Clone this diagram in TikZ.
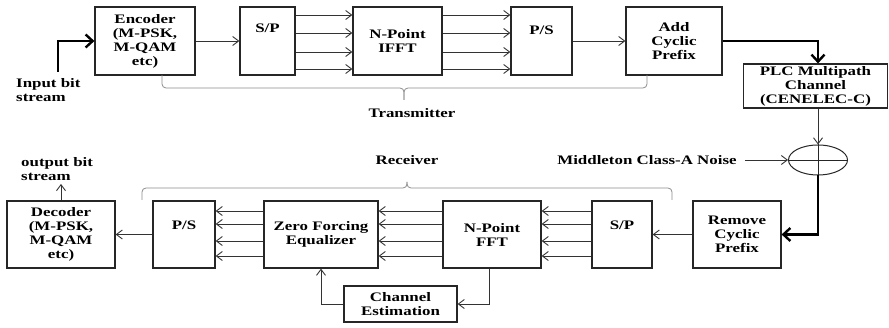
\documentclass[tikz,border=0pt]{standalone}
\usepackage{fontspec}
\setmainfont{Liberation Serif}[FakeStretch=1.3]
\usetikzlibrary{arrows.meta,shapes.geometric}
\begin{document}
\begin{tikzpicture}[x=1pt,y=-1pt,
  box/.style={draw=black!85, line width=1.2pt, inner sep=0pt, align=center, font=\bfseries\fontsize{13}{14}\selectfont},
  txt/.style={inner sep=0pt, align=center, font=\bfseries\fontsize{13}{14}\selectfont},
  ln/.style={draw=black!80, line width=0.9pt, -{Straight Barb[length=6pt,width=9pt,line width=0.9pt]}},
  thk/.style={draw=black, line width=2.4pt, -{Straight Barb[length=7pt,width=13pt]}},
  brc/.style={draw=black!45, line width=0.8pt, rounded corners=4pt}]
\useasboundingbox (0,0) rectangle (889,328);
% transmitter boxes
\node[box,minimum width=100pt,minimum height=68pt] (enc) at (145,41) {Encoder\\(M-PSK,\\M-QAM\\etc)};
\node[box,minimum width=55pt,minimum height=68pt] (sp1) at (267.5,41) {};
\node[txt] (sp1t) at (267.5,28) {S/P};
\node[box,minimum width=89pt,minimum height=68pt] (ifft) at (397.5,41) {N-Point\\IFFT};
\node[box,minimum width=61pt,minimum height=68pt] (ps1) at (541.5,41) {};
\node[txt] (ps1t) at (541.5,30) {P/S};
\node[box,minimum width=96pt,minimum height=68pt] (acp) at (674,41) {Add\\Cyclic\\Prefix};
\node[box,minimum width=144pt,minimum height=44pt] (plc) at (815.5,86) {PLC Multipath\\Channel\\(CENELEC-C)};
\node[draw=black!85, line width=1pt, ellipse, minimum width=59pt, minimum height=30pt, inner sep=0pt] (sum) at (818,160) {};
\draw[line width=0.9pt, draw=black!85] (sum.north) -- (sum.south) (sum.west) -- (sum.east);
% receiver boxes
\node[box,minimum width=88pt,minimum height=67pt] (rcp) at (737,234.5) {Remove\\Cyclic\\Prefix};
\node[box,minimum width=60pt,minimum height=67pt] (sp2) at (622,234.5) {};
\node[txt] (sp2t) at (622,225) {S/P};
\node[box,minimum width=98pt,minimum height=67pt] (fft) at (492,234.5) {N-Point\\FFT};
\node[box,minimum width=114pt,minimum height=67pt] (zfe) at (321,234.5) {Zero Forcing\\Equalizer};
\node[box,minimum width=62pt,minimum height=67pt] (ps2) at (184,234.5) {};
\node[txt] (ps2t) at (184,225) {P/S};
\node[box,minimum width=108pt,minimum height=67pt] (dec) at (61,234.5) {Decoder\\(M-PSK,\\M-QAM\\etc)};
\node[box,minimum width=113pt,minimum height=36pt] (che) at (400.5,304) {Channel\\Estimation};
% texts
\node[txt, align=left, anchor=west] (inp) at (16,90) {Input bit\\stream};
\node[txt, align=left, anchor=west] (outp) at (21,169) {output bit\\stream};
\node[txt] (tx) at (412,113) {Transmitter};
\node[txt] (rx) at (407,160) {Receiver};
\node[txt] (noise) at (647,160) {Middleton Class-A Noise};
\coordinate (inpt) at (58,72);
\coordinate (outpt) at (61,184);
% transmitter connectors
\draw[thk] (inpt) |- (enc.west);
\draw[ln] (enc.east) -- (sp1.west);
\foreach \yy in {15,33,52,69} {
  \draw[ln] (sp1.east |- 0,\yy) -- (ifft.west |- 0,\yy);
  \draw[ln] (ifft.east |- 0,\yy) -- (ps1.west |- 0,\yy);
}
\draw[ln] (ps1.east) -- (acp.west);
\draw[thk] (acp.east) -| (sum.center |- plc.north);
\draw[ln] (sum.center |- plc.south) -- (sum.north);
\draw[ln, shorten <=8pt] (noise.east) -- (sum.west);
\draw[thk] (sum.south) |- (rcp.east);
% receiver connectors
\draw[ln] (rcp.west) -- (sp2.east);
\foreach \yy in {211,224,241,256} {
  \draw[ln] (sp2.west |- 0,\yy) -- (fft.east |- 0,\yy);
  \draw[ln] (fft.west |- 0,\yy) -- (zfe.east |- 0,\yy);
  \draw[ln] (zfe.west |- 0,\yy) -- (ps2.east |- 0,\yy);
}
\draw[ln] (ps2.west) -- (dec.east);
\draw[ln] (dec.north) -- (outpt);
\draw[ln] ([xshift=-3pt]fft.south) |- (che.east);
\draw[ln] (che.west) -| (zfe.south);
% braces
\draw[brc] (162,75) |- (404,88) -- (404,100);
\draw[brc] (647,75) |- (404,88) -- (404,100);
\draw[brc] (142,200) |- (407,188) -- (407,182);
\draw[brc] (672,200) |- (407,188) -- (407,182);
\end{tikzpicture}
\end{document}
